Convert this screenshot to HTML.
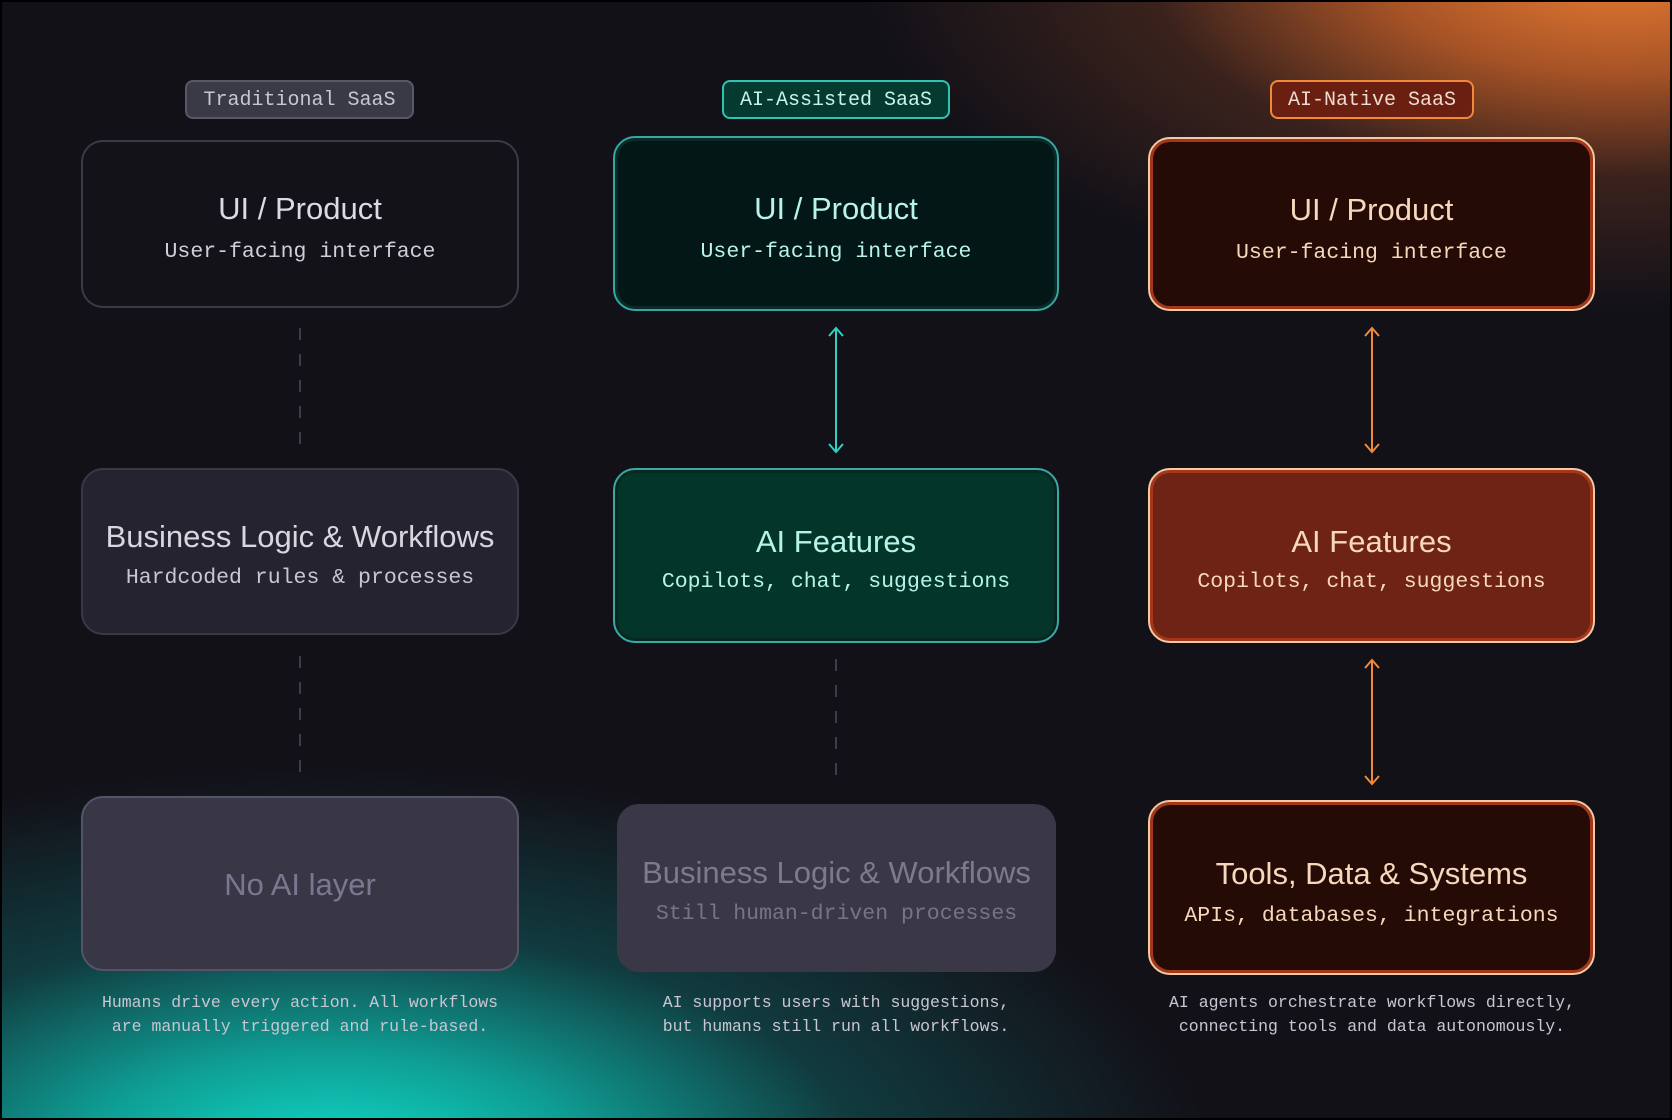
<!DOCTYPE html>
<html><head><meta charset="utf-8"><style>
html,body{margin:0;padding:0;}
body{width:1672px;height:1120px;position:relative;overflow:hidden;background:#121118;font-family:"Liberation Sans",sans-serif;}
.bg{position:absolute;inset:0;background:
radial-gradient(ellipse 880px 400px at 330px 1170px, rgba(16,228,208,1) 0%, rgba(14,180,168,0.85) 30%, rgba(15,110,110,0.45) 60%, rgba(18,17,24,0) 100%),
radial-gradient(ellipse 760px 350px at 1620px -40px, rgba(238,128,52,1) 0%, rgba(205,100,42,0.8) 32%, rgba(120,60,35,0.4) 62%, rgba(18,17,24,0) 100%);}
.frame{position:absolute;inset:0;border:2px solid #000;box-sizing:border-box;}
.badge{position:absolute;height:39px;box-sizing:border-box;border-radius:8px;font-family:"Liberation Mono",monospace;font-size:20px;line-height:37px;text-align:center;}
.box{position:absolute;box-sizing:border-box;border-radius:22px;text-align:center;}
.t{position:absolute;left:0;right:0;font-size:31px;line-height:34px;}
.s{position:absolute;left:0;right:0;font-family:"Liberation Mono",monospace;font-size:21.5px;line-height:26px;}
.cap{position:absolute;font-family:"Liberation Mono",monospace;font-size:16.5px;line-height:24px;text-align:center;color:#c8c6d2;width:500px;}
svg{position:absolute;left:0;top:0;}
</style></head><body>
<div class="bg"></div>

<div class="badge" style="left:185px;top:80px;width:229px;background:#3a3946;border:2px solid #5a5868;color:#c8c6d0;">Traditional SaaS</div>
<div class="badge" style="left:722px;top:80px;width:228px;background:#053a30;border:2px solid #2fc3b0;color:#c9f3ea;">AI-Assisted SaaS</div>
<div class="badge" style="left:1270px;top:80px;width:204px;background:#6a1f10;border:2px solid #f08a38;color:#ecdcd2;">AI-Native SaaS</div>

<!-- col1 -->
<div class="box" style="left:81px;top:140px;width:438px;height:168px;background:#131219;border:2px solid #3a3946;">
<div class="t" style="top:50px;color:#dcdae4;">UI / Product</div><div class="s" style="top:97px;color:#d0ced8;">User-facing interface</div></div>
<div class="box" style="left:81px;top:468px;width:438px;height:167px;background:#25232f;border:2px solid #3a3846;">
<div class="t" style="top:50px;color:#d8d6e0;">Business Logic &amp; Workflows</div><div class="s" style="top:95px;color:#c8c6d0;">Hardcoded rules &amp; processes</div></div>
<div class="box" style="left:81px;top:796px;width:438px;height:175px;background:#393746;border:2px solid #55536a;">
<div class="t" style="top:70px;color:#7a7890;">No AI layer</div></div>

<!-- col2 -->
<div class="box" style="left:613px;top:136px;width:446px;height:175px;background:#021716;border:2px solid #33a8a0;box-shadow:inset 0 0 0 3px #0a2a28;">
<div class="t" style="top:54px;color:#b8f4ea;">UI / Product</div><div class="s" style="top:101px;color:#b8f4ea;">User-facing interface</div></div>
<div class="box" style="left:613px;top:468px;width:446px;height:175px;background:#033529;border:2px solid #3aa9a5;box-shadow:inset 0 0 0 3px #08281f;">
<div class="t" style="top:55px;color:#b6f4ea;">AI Features</div><div class="s" style="top:99px;color:#b6f4ea;">Copilots, chat, suggestions</div></div>
<div class="box" style="left:617px;top:804px;width:439px;height:168px;background:#3a3847;">
<div class="t" style="top:52px;color:#7c7a8e;">Business Logic &amp; Workflows</div><div class="s" style="top:97px;color:#767488;">Still human-driven processes</div></div>

<!-- col3 -->
<div class="box" style="left:1148px;top:137px;width:447px;height:174px;background:#240b05;border:2px solid #f7c9a0;box-shadow:inset 0 0 0 3px #a3361b;">
<div class="t" style="top:54px;color:#f8d8bc;">UI / Product</div><div class="s" style="top:101px;color:#f8d8bc;">User-facing interface</div></div>
<div class="box" style="left:1148px;top:468px;width:447px;height:175px;background:#6e2314;border:2px solid #f7c9a0;box-shadow:inset 0 0 0 3px #a3361b;">
<div class="t" style="top:55px;color:#f8d8bc;">AI Features</div><div class="s" style="top:99px;color:#f8d8bc;">Copilots, chat, suggestions</div></div>
<div class="box" style="left:1148px;top:800px;width:447px;height:175px;background:#240b05;border:2px solid #f7c9a0;box-shadow:inset 0 0 0 3px #a3361b;">
<div class="t" style="top:55px;color:#f8d8bc;">Tools, Data &amp; Systems</div><div class="s" style="top:101px;color:#f8d8bc;">APIs, databases, integrations</div></div>

<svg width="1672" height="1120">
<g stroke="#3d3c4a" stroke-width="2" stroke-dasharray="12,14">
<line x1="300" y1="328" x2="300" y2="448"/><line x1="300" y1="656" x2="300" y2="776"/><line x1="836" y1="659" x2="836" y2="785"/>
</g>
<g stroke="#2fd0c0" stroke-width="2" fill="none"><line x1="836" y1="328" x2="836" y2="452"/><polyline points="829,336 836,328 843,336"/><polyline points="829,444 836,452 843,444"/></g>
<g stroke="#f08a38" stroke-width="2" fill="none">
<line x1="1372" y1="328" x2="1372" y2="452"/><polyline points="1365,336 1372,328 1379,336"/><polyline points="1365,444 1372,452 1379,444"/>
<line x1="1372" y1="660" x2="1372" y2="784"/><polyline points="1365,668 1372,660 1379,668"/><polyline points="1365,776 1372,784 1379,776"/>
</g>
</svg>

<div class="cap" style="left:50px;top:991px;">Humans drive every action. All workflows<br>are manually triggered and rule-based.</div>
<div class="cap" style="left:586px;top:991px;">AI supports users with suggestions,<br>but humans still run all workflows.</div>
<div class="cap" style="left:1112px;top:991px;width:520px;">AI agents orchestrate workflows directly,<br>connecting tools and data autonomously.</div>
<div class="frame"></div>
</body></html>
